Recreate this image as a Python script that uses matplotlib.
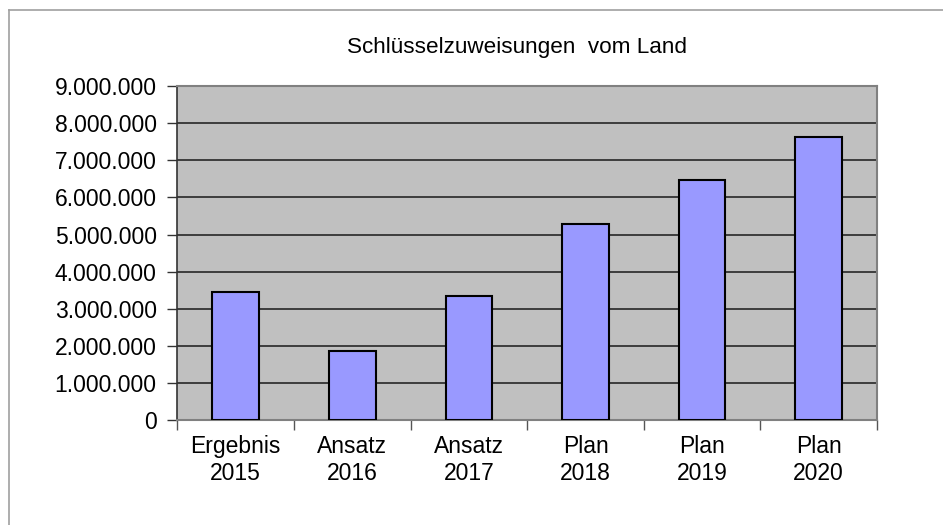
import matplotlib
matplotlib.use("Agg")
import matplotlib.pyplot as plt
import numpy as np
from matplotlib.ticker import FuncFormatter, MultipleLocator

# Data
categories = ["Ergebnis\n2015", "Ansatz\n2016", "Ansatz\n2017", "Plan\n2018", "Plan\n2019", "Plan\n2020"]
values = [3440000, 1850000, 3330000, 5290000, 6460000, 7620000]
title = "Schlüsselzuweisungen  vom Land"

plt.rcParams['font.family'] = ['Liberation Sans', 'DejaVu Sans']

fig = plt.figure(figsize=(9.43, 5.25), dpi=100)
ax = fig.add_axes([0.1882, 0.2, 0.930 - 0.1882, 0.836 - 0.2])

# thin grey frame around the whole chart (top and left visible)
fig.add_artist(plt.Line2D([9 / 943, 1.0], [1 - 10 / 525, 1 - 10 / 525], color='#a0a0a0', lw=1.2))
fig.add_artist(plt.Line2D([9 / 943, 9 / 943], [1 - 10 / 525, 0.0], color='#a0a0a0', lw=1.2))

ax.set_facecolor('#c0c0c0')
x = np.arange(len(categories))
ax.bar(x, values, width=0.4, color='#9999ff', edgecolor='black', linewidth=1.5, zorder=3)

ax.set_xlim(-0.5, len(categories) - 0.5)
ax.set_ylim(0, 9000000)
ax.yaxis.set_major_locator(MultipleLocator(1000000))
ax.yaxis.set_major_formatter(FuncFormatter(lambda v, p: f"{int(v):,}".replace(",", ".")))
ax.grid(axis='y', color='#333333', linewidth=1.3, zorder=1)

ax.set_xticks(x)
ax.set_xticklabels(categories, fontsize=16.5, linespacing=1.2)
ax.set_xticks(np.arange(-0.5, len(categories), 1), minor=True)
ax.tick_params(axis='x', which='major', length=0, pad=11)
ax.tick_params(axis='x', which='minor', length=7, width=1, color='#555555', direction='out')
ax.tick_params(axis='y', length=7, width=1, pad=8, labelsize=16.5, color='#333333')

for s in ['top', 'right', 'bottom']:
    ax.spines[s].set_color('#808080')
    ax.spines[s].set_linewidth(1.5)
ax.spines['left'].set_color('#333333')
ax.spines['left'].set_linewidth(1.2)

fig.text(517 / 943, 1 - 47 / 525, title, fontsize=16.2, ha='center', va='center')

fig.savefig("out.png", dpi=100)
